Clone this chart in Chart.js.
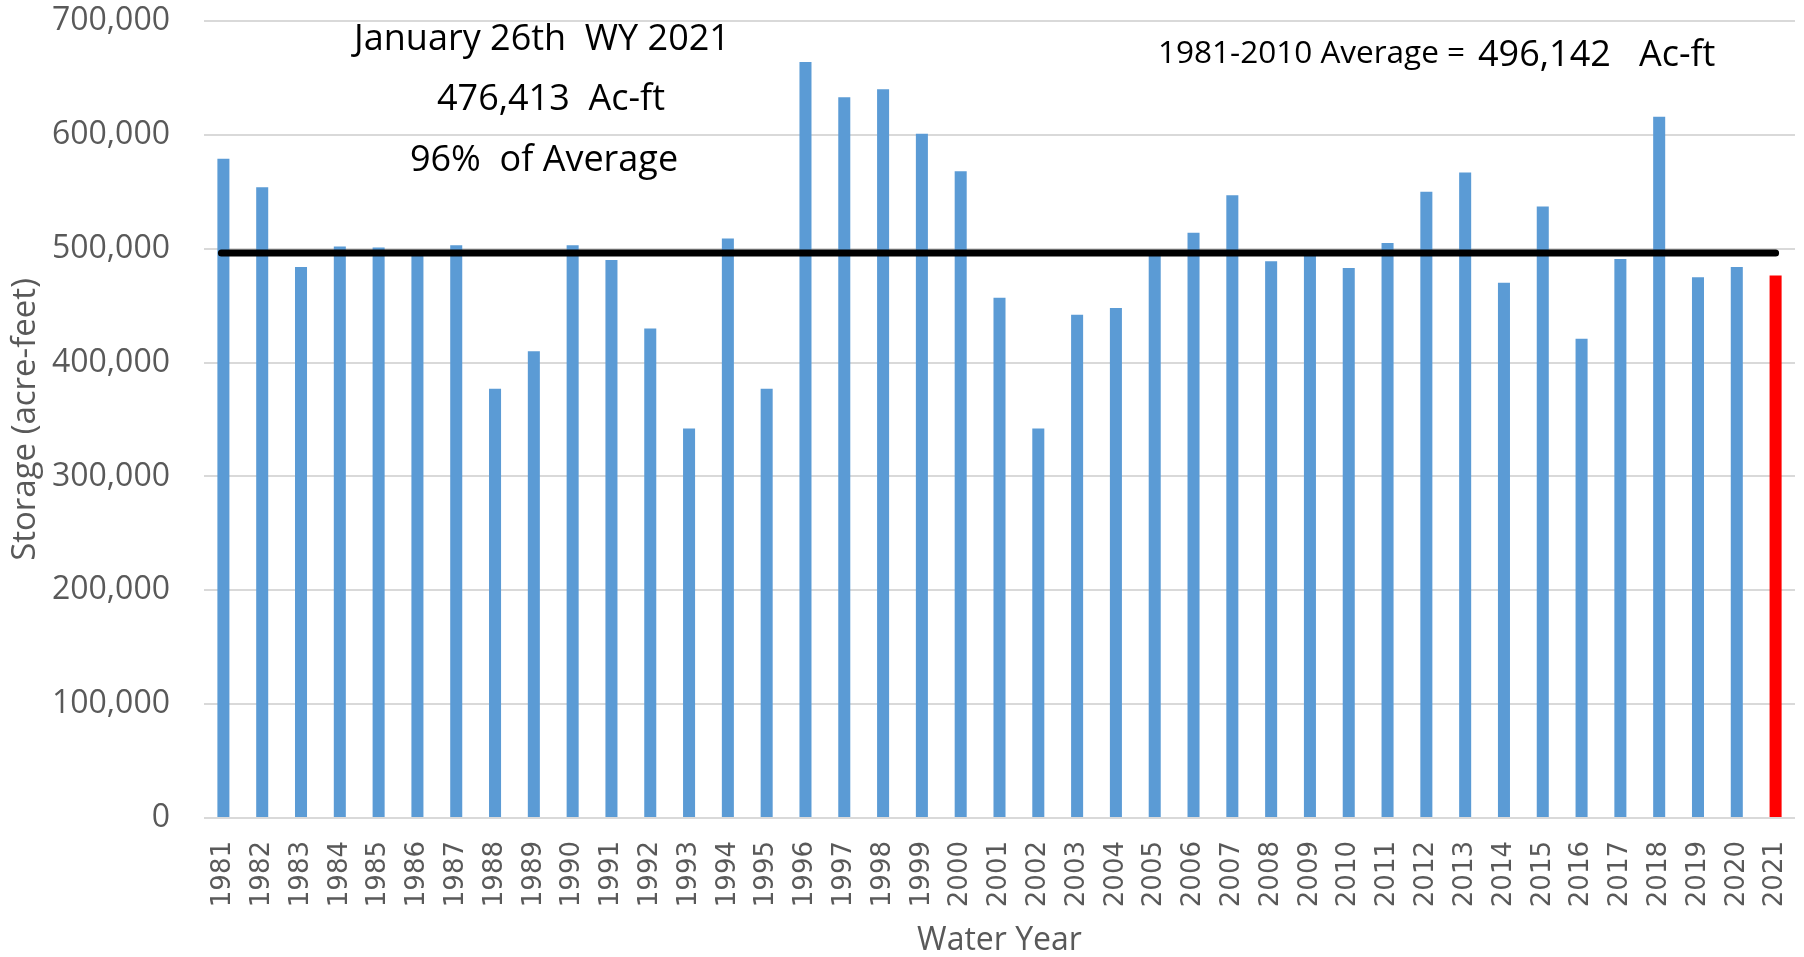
<!DOCTYPE html>
<html>
<head>
<meta charset="utf-8">
<script src="https://cdn.jsdelivr.net/npm/chart.js@4.4.1/dist/chart.umd.min.js"></script>
<style>
  html, body { margin: 0; padding: 0; background: #fff; }
  #wrap { width: 1804px; height: 957px; position: relative; }
</style>
</head>
<body>
<div id="wrap"><canvas id="storageChart"></canvas></div>
<script>
// water years on the x axis
const years = [
  "1981", "1982", "1983", "1984", "1985", "1986", "1987", "1988", "1989", "1990",
  "1991", "1992", "1993", "1994", "1995", "1996", "1997", "1998", "1999", "2000",
  "2001", "2002", "2003", "2004", "2005", "2006", "2007", "2008", "2009", "2010",
  "2011", "2012", "2013", "2014", "2015", "2016", "2017", "2018", "2019", "2020",
  "2021",
];

// storage on January 26th (acre-feet)
const storage = [
  579000, 554000, 484000, 502000, 501000, 494000, 503000, 377000, 410000, 503000,
  490000, 430000, 342000, 509000, 377000, 664000, 633000, 640000, 601000, 568000,
  457000, 342000, 442000, 448000, 494000, 514000, 547000, 489000, 494000, 483000,
  505000, 550000, 567000, 470000, 537000, 421000, 491000, 616000, 475000, 484000,
  476413,
];

const AVERAGE = 496142;
const yTicks = [0, 100000, 200000, 300000, 400000, 500000, 600000, 700000];

const barColors = years.map((y) => (y === "2021" ? "#ff0000" : "#5b9bd5"));

const SANS = '"Open Sans", "Noto Sans", sans-serif';

// average line across all years, on top of the bars
const averageLine = {
  id: "averageLine",
  afterDatasetsDraw(chart) {
    const { ctx, scales } = chart;
    const y = scales.y.getPixelForValue(AVERAGE);
    const x0 = scales.x.getPixelForValue(0) - 2;
    const x1 = scales.x.getPixelForValue(years.length - 1);
    ctx.save();
    ctx.strokeStyle = "#000";
    ctx.lineWidth = 7;
    ctx.lineCap = "round";
    ctx.beginPath();
    ctx.moveTo(x0, y);
    ctx.lineTo(x1, y);
    ctx.stroke();
    ctx.restore();
  },
};

// text boxes in the upper part of the chart
const notes = {
  id: "notes",
  afterDraw(chart) {
    const { ctx } = chart;
    ctx.save();
    ctx.fillStyle = "#000";
    ctx.textBaseline = "middle";
    ctx.textAlign = "center";
    ctx.font = "36px " + SANS;
    ctx.fillText("January 26th  WY 2021", 542, 40);
    ctx.fillText("476,413  Ac-ft", 551, 100);
    ctx.fillText("96%  of Average", 544, 161);

    ctx.textAlign = "left";
    ctx.font = "31.5px " + SANS;
    ctx.fillText("1981-2010 Average = ", 1158, 54);
    ctx.font = "36px " + SANS;
    ctx.fillText("496,142   Ac-ft", 1478, 56);
    ctx.restore();
  },
};

const noPad = (scale) => {
  scale.paddingTop = 0;
  scale.paddingBottom = 0;
  scale.paddingLeft = 0;
  scale.paddingRight = 0;
};

const data = {
  labels: years,
  datasets: [
    {
      label: "Storage",
      data: storage,
      backgroundColor: barColors,
      borderWidth: 0,
      categoryPercentage: 1.0,
      barPercentage: 0.31,
    },
  ],
};

const config = {
  type: "bar",
  data,
  options: {
    responsive: true,
    maintainAspectRatio: false,
    animation: false,
    layout: { padding: { top: 21, right: 9, left: 0, bottom: 0 } },
    plugins: {
      legend: { display: false },
      tooltip: { enabled: false },
    },
    scales: {
      x: {
        grid: { display: false },
        border: { display: false },
        ticks: {
          autoSkip: false,
          minRotation: 90,
          maxRotation: 90,
          padding: 15,
          color: "#595959",
          font: { family: '"DejaVu Sans", sans-serif', size: 26 },
        },
        title: {
          display: true,
          text: "Water Year",
          color: "#595959",
          padding: { top: 0, bottom: 0 },
          font: { family: SANS, size: 32, lineHeight: 1 },
        },
        afterFit(scale) {
          scale.height = 139;
          noPad(scale);
        },
      },
      y: {
        min: 0,
        max: 700000,
        afterBuildTicks(scale) {
          scale.ticks = yTicks.map((v) => ({ value: v }));
        },
        grid: { color: "#d9d9d9", lineWidth: 2, drawTicks: false },
        border: { display: false },
        ticks: {
          padding: 34,
          color: "#595959",
          font: { family: SANS, size: 32 },
          callback: (v) => Number(v).toLocaleString("en-US"),
        },
        title: {
          display: true,
          text: "Storage (acre-feet)",
          color: "#595959",
          padding: { top: 9, bottom: 0 },
          font: { family: SANS, size: 33, lineHeight: 1 },
        },
        afterFit(scale) {
          scale.width = 204;
          noPad(scale);
        },
      },
    },
  },
  plugins: [averageLine, notes],
};

const chartInstance = new Chart(document.getElementById("storageChart"), config);
</script>
</body>
</html>
